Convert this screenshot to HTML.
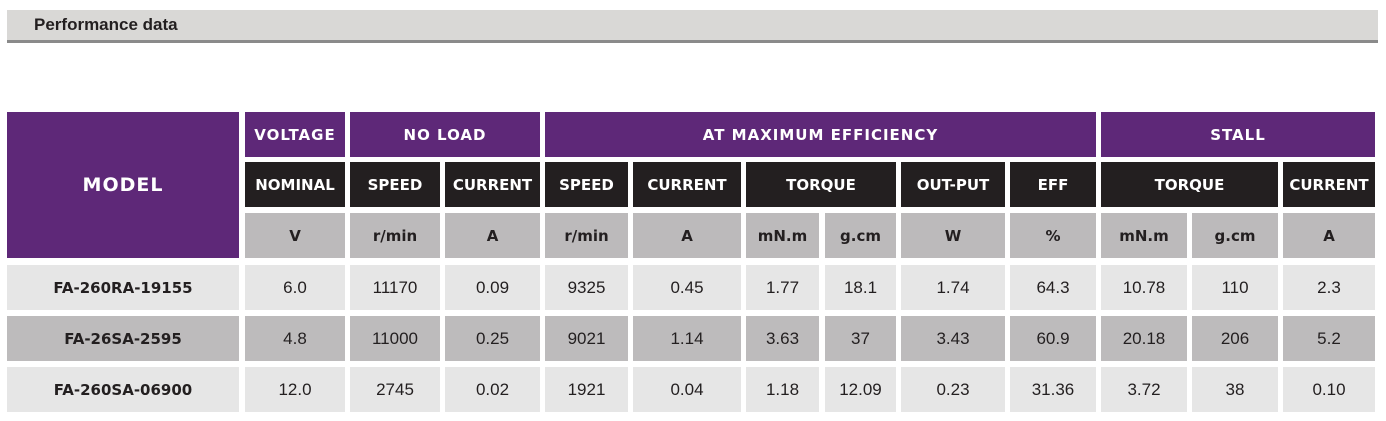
<!DOCTYPE html><html><head><style>
body{margin:0;width:1386px;height:421px;background:#fff;position:relative;font-family:"DejaVu Sans","Liberation Sans",sans-serif;overflow:hidden}
.c{position:absolute;display:flex;align-items:center;justify-content:center;box-sizing:border-box}
.p{background:#5e2878;color:#fff;font-weight:bold;font-size:15px;letter-spacing:1px}
.k{background:#231f20;color:#fff;font-weight:bold;font-size:15px}
.u{background:#bcbabb;color:#231f20;font-weight:bold;font-size:15px}
.l{background:#e6e6e6;color:#231f20;font-size:15px}
.d{background:#bdbbbc;color:#231f20;font-size:15px}
.m{font-weight:bold}
</style></head><body>
<div style="position:absolute;left:7px;top:10px;width:1371px;height:30px;background:#d9d8d6"></div>
<div style="position:absolute;left:7px;top:40px;width:1371px;height:3px;background:#8a8a8a"></div>
<div style="position:absolute;left:34px;top:15px;font-family:'Liberation Sans',sans-serif;font-weight:bold;font-size:17px;color:#231f20">Performance data</div>
<div id="t"></div>
<script>
const cols=[[7,239],[245,345],[350,440],[445,540],[545,628],[633,741],[746,819],[825,896],[901,1005],[1010,1096],[1101,1187],[1192,1278],[1283,1375]];
const R=[[112,157],[162,207],[213,258],[265,310],[316,361],[367,412]];
let h='';
function cell(x1,x2,y1,y2,cls,t,st){h+=`<div class="c ${cls}" style="left:${x1}px;top:${y1}px;width:${x2-x1}px;height:${y2-y1}px;${st||''}">${t}</div>`}
cell(7,239,112,258,'p','MODEL','font-size:19px');
cell(245,345,112,157,'p','VOLTAGE');
cell(350,540,112,157,'p','NO LOAD');
cell(545,1096,112,157,'p','AT MAXIMUM EFFICIENCY');
cell(1101,1375,112,157,'p','STALL');
const k=[[1,'NOMINAL'],[2,'SPEED'],[3,'CURRENT'],[4,'SPEED'],[5,'CURRENT']];
k.forEach(([i,t])=>cell(cols[i][0],cols[i][1],162,207,'k',t));
cell(746,896,162,207,'k','TORQUE');cell(901,1005,162,207,'k','OUT-PUT');cell(1010,1096,162,207,'k','EFF');
cell(1101,1278,162,207,'k','TORQUE');cell(1283,1375,162,207,'k','CURRENT');
['V','r/min','A','r/min','A','mN.m','g.cm','W','%','mN.m','g.cm','A'].forEach((t,i)=>cell(cols[i+1][0],cols[i+1][1],213,258,'u',t));
const D=[['FA-260RA-19155','6.0','11170','0.09','9325','0.45','1.77','18.1','1.74','64.3','10.78','110','2.3'],
['FA-26SA-2595','4.8','11000','0.25','9021','1.14','3.63','37','3.43','60.9','20.18','206','5.2'],
['FA-260SA-06900','12.0','2745','0.02','1921','0.04','1.18','12.09','0.23','31.36','3.72','38','0.10']];
D.forEach((r,j)=>r.forEach((t,i)=>cell(cols[i][0],cols[i][1],R[j+3][0],R[j+3][1],(j==1?'d':'l')+(i==0?' m':''),t,i?'font-family:Liberation Sans,sans-serif;font-size:17px':'')));
document.getElementById('t').outerHTML=h;
</script>
</body></html>
